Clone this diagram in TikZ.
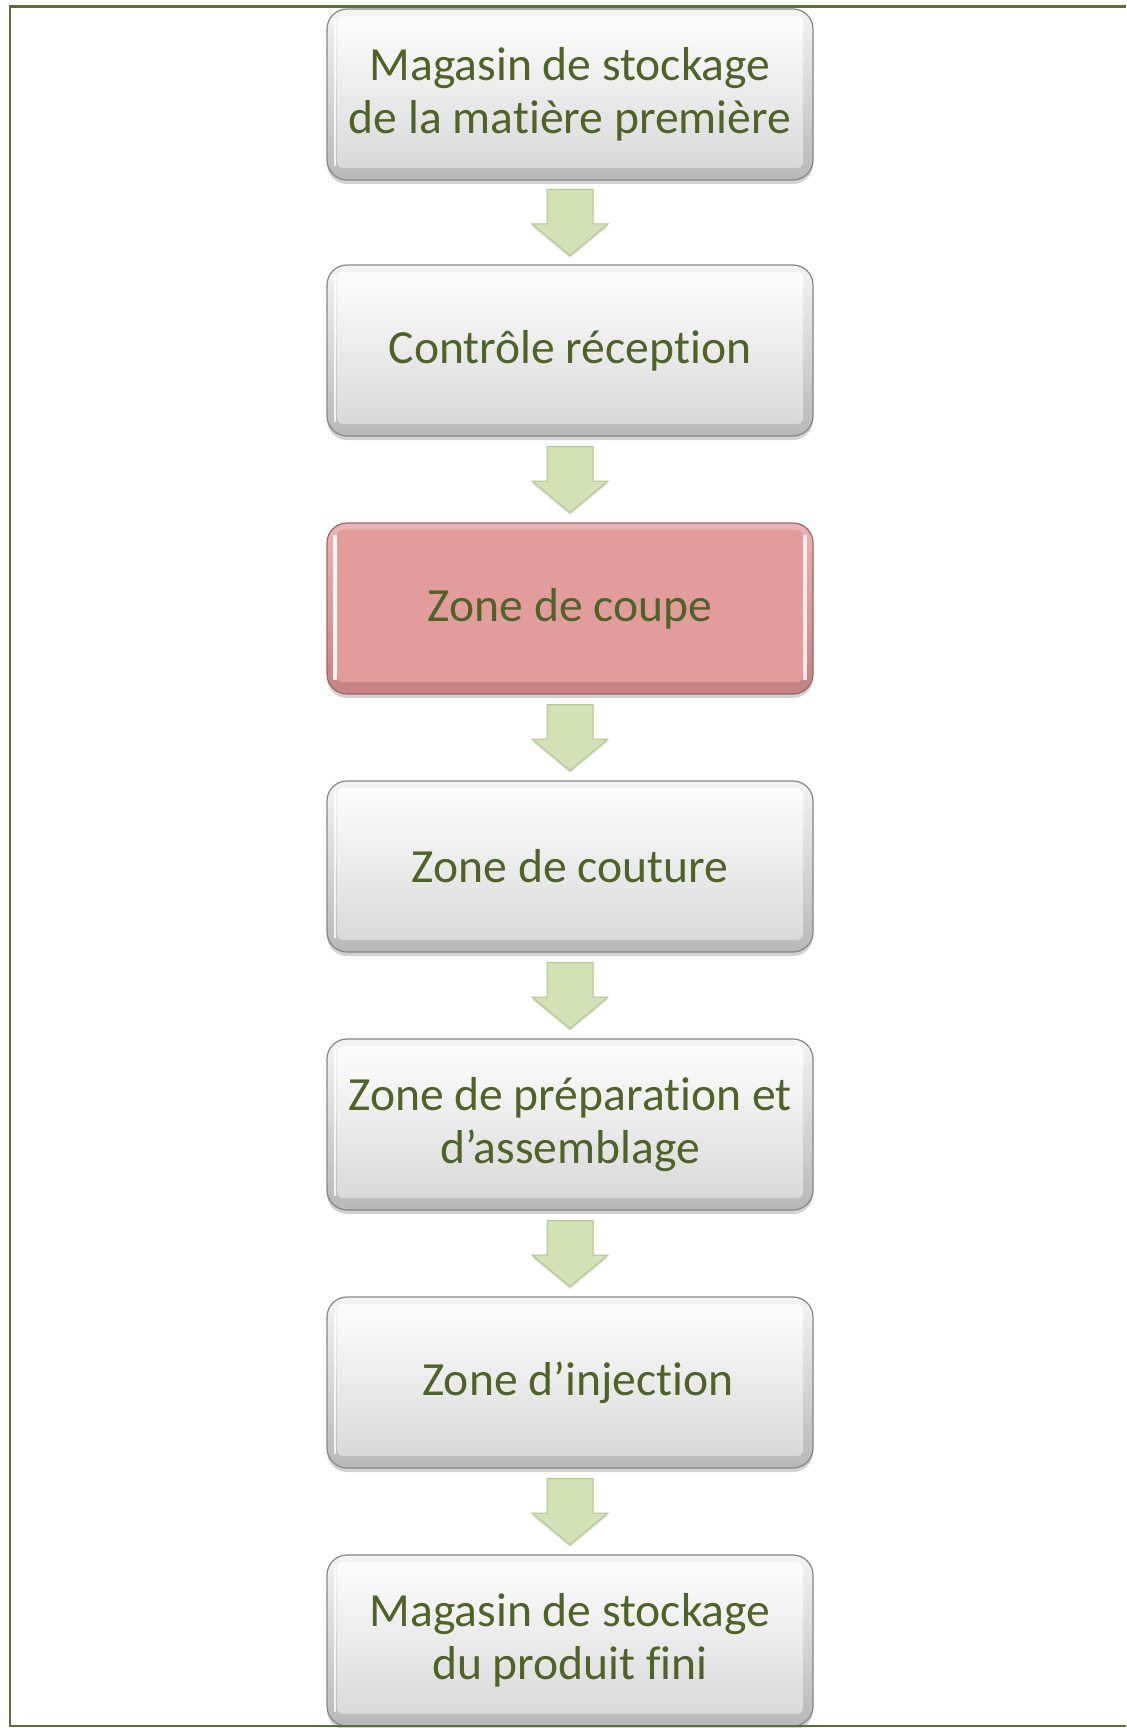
\documentclass[tikz,border=0pt]{standalone}
\usepackage{fontspec}
\setmainfont{Carlito}[Ligatures=NoCommon]
\usetikzlibrary{calc,shadows}

\definecolor{txtgreen}{HTML}{4F6228}
\definecolor{framegreen}{HTML}{5B7032}
\definecolor{arrowfill}{HTML}{D2E1B6}
\definecolor{arrowedge}{HTML}{B2C78C}
\definecolor{rimtop}{HTML}{F4F4F4}
\definecolor{rimbot}{HTML}{B8B8B8}
\definecolor{rimline}{HTML}{858585}
\definecolor{facebot}{HTML}{D6D6D6}
\definecolor{pinkrimtop}{HTML}{ECB4B4}
\definecolor{pinkrimbot}{HTML}{C48282}
\definecolor{pinkline}{HTML}{9E6464}
\definecolor{pinkface}{HTML}{E39C9C}

\tikzset{
  stagebox/.style={
    rounded corners=10pt, minimum width=243pt, minimum height=85.5pt,
    inner sep=0pt, align=center, text=txtgreen,
    font=\fontsize{23.8}{26.5}\selectfont,
    top color=rimtop, bottom color=rimbot, draw=rimline, line width=0.6pt,
    drop shadow={shadow xshift=0pt, shadow yshift=-2pt, opacity=0.35},
    path picture={
      \shade[top color=white, bottom color=facebot, rounded corners=3pt]
        ([xshift=5pt,yshift=-3.5pt]path picture bounding box.north west)
        rectangle ([xshift=-5pt,yshift=6pt]path picture bounding box.south east);
      \draw[white, line width=1.2pt, opacity=0.8]
        ([xshift=4pt,yshift=-5pt]path picture bounding box.north west)
        -- ([xshift=4pt,yshift=7pt]path picture bounding box.south west);
    }
  },
  hotbox/.style={
    stagebox,
    top color=pinkrimtop, bottom color=pinkrimbot, draw=pinkline,
    path picture={
      \fill[pinkface, rounded corners=3pt]
        ([xshift=5pt,yshift=-3.5pt]path picture bounding box.north west)
        rectangle ([xshift=-5pt,yshift=6pt]path picture bounding box.south east);
      \draw[white, line width=2pt, opacity=0.9]
        ([xshift=4pt,yshift=-6pt]path picture bounding box.north west)
        -- ([xshift=4pt,yshift=7pt]path picture bounding box.south west);
      \draw[white, line width=2pt, opacity=0.8]
        ([xshift=-4pt,yshift=-6pt]path picture bounding box.north east)
        -- ([xshift=-4pt,yshift=7pt]path picture bounding box.south east);
    }
  },
  flowarrowstyle/.style={
    fill=arrowfill, draw=arrowedge, line width=0.5pt, line join=miter,
    drop shadow={shadow xshift=0pt, shadow yshift=-1.2pt, opacity=0.25}
  },
  framestyle/.style={draw=framegreen, line width=1.2pt}
}

% block arrow centred in the gap between two stages
\newcommand\flowarrow[2]{%
  \coordinate (gap#1) at ($(#1.south)!0.5!(#2.north)$);
  \draw[flowarrowstyle]
    ([shift={(-11.5pt,16.5pt)}]gap#1) -- ([shift={(11.5pt,16.5pt)}]gap#1)
    -- ([shift={(11.5pt,-0.75pt)}]gap#1) -- ([shift={(19pt,-0.75pt)}]gap#1)
    -- ([shift={(0pt,-16.5pt)}]gap#1) -- ([shift={(-19pt,-0.75pt)}]gap#1)
    -- ([shift={(-11.5pt,-0.75pt)}]gap#1) -- cycle;
}

\begin{document}
\begin{tikzpicture}[x=0.5pt,y=-0.5pt]
  \useasboundingbox (0,0) rectangle (1126,1728);
  \fill[white] (0,0) rectangle (1126,1728);

  \node[stagebox] (b1) at (570,94.5) {Magasin de stockage\\de la matière première};
  \node[stagebox] (b2) at (570,350.5) {Contrôle réception};
  \node[hotbox]   (b3) at (570,608.5) {Zone de coupe};
  \node[stagebox] (b4) at (570,866.5) {Zone de couture};
  \node[stagebox] (b5) at (570,1124.5) {Zone de préparation et\\d’assemblage};
  \node[stagebox] (b6) at (570,1382.5) {\hspace*{8pt}Zone d’injection};
  \node[stagebox] (b7) at (570,1640.5) {Magasin de stockage\\du produit fini};

  \flowarrow{b1}{b2}
  \flowarrow{b2}{b3}
  \flowarrow{b3}{b4}
  \flowarrow{b4}{b5}
  \flowarrow{b5}{b6}
  \flowarrow{b6}{b7}

  % page frame, open on the right
  \draw[framestyle] (1126,6.5) -- (10,6.5) -- (10,1726) -- (1126,1726);
\end{tikzpicture}
\end{document}
